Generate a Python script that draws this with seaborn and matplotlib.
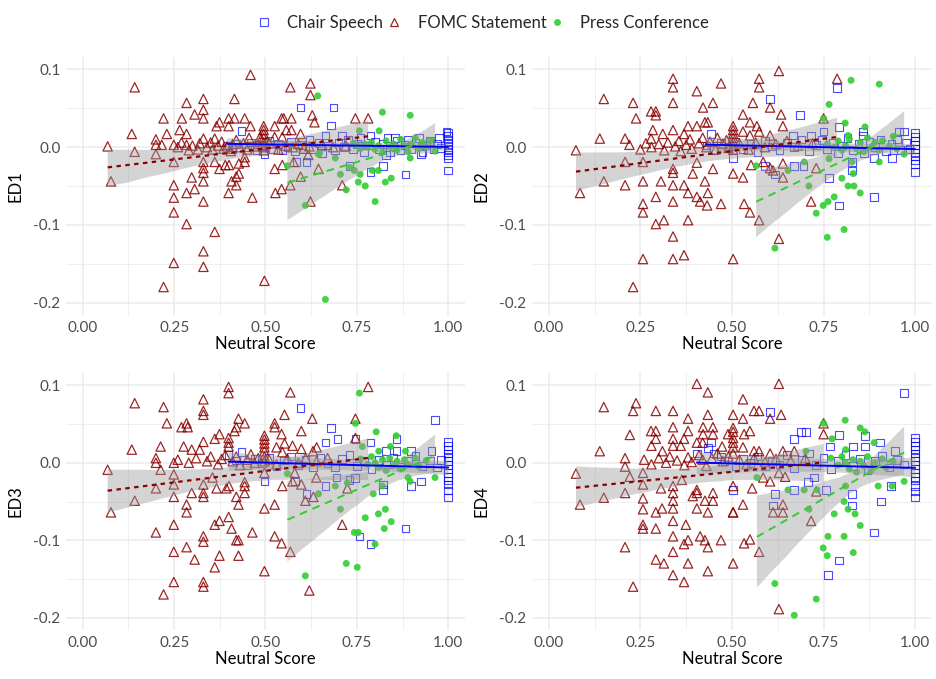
import matplotlib
matplotlib.use("Agg")
import matplotlib.pyplot as plt
import seaborn as sns
from matplotlib.lines import Line2D

# ---------------------------------------------------------------- data
# FOMC Statement
fomc_ed1_x = [0.068, 0.077, 0.134, 0.142, 0.142, 0.200, 0.200, 0.200, 0.216, 0.221,
              0.221, 0.230, 0.249, 0.249, 0.249, 0.249, 0.249, 0.249, 0.265, 0.270,
              0.271, 0.284, 0.284, 0.284, 0.284, 0.284, 0.298, 0.306, 0.306, 0.330,
              0.330, 0.330, 0.330, 0.330, 0.330, 0.330, 0.330, 0.330, 0.330, 0.330,
              0.361, 0.361, 0.361, 0.366, 0.374, 0.374, 0.390, 0.399, 0.399, 0.399,
              0.400, 0.407, 0.415, 0.415, 0.420, 0.420, 0.427, 0.427, 0.443, 0.443,
              0.443, 0.459, 0.459, 0.464, 0.497,
              0.260, 0.290, 0.300, 0.315, 0.320, 0.340, 0.350, 0.355, 0.370, 0.380,
              0.385, 0.395, 0.405, 0.410, 0.420, 0.430, 0.440, 0.450, 0.455, 0.470,
              0.480, 0.485,
              0.495, 0.495, 0.495, 0.495, 0.495, 0.495, 0.495,
              0.525, 0.525, 0.525, 0.527, 0.544, 0.546, 0.544, 0.546, 0.550, 0.557,
              0.568, 0.568, 0.571, 0.571, 0.577, 0.596, 0.596, 0.617, 0.623, 0.623,
              0.623, 0.628, 0.634, 0.645, 0.710, 0.746, 0.781,
              0.510, 0.535, 0.555, 0.575, 0.590, 0.605, 0.620, 0.655, 0.685, 0.720]
fomc_ed1_y = [0.001, -0.044, 0.017, 0.077, -0.006, 0.010, 0.003, -0.009, 0.003, 0.037,
              -0.180, 0.017, 0.003, -0.019, -0.049, -0.065, -0.084, -0.149, 0.022, 0.006,
              0.037, 0.057, 0.017, 0.003, -0.059, -0.099, -0.039, 0.042, -0.054, 0.062,
              0.048, 0.037, 0.011, -0.019, -0.027, -0.033, -0.044, -0.070, -0.134, -0.154,
              0.011, -0.019, -0.109, 0.027, 0.032, -0.028, -0.023, 0.037, 0.027, -0.059,
              -0.023, -0.044, 0.062, 0.037, -0.038, -0.049, -0.021, -0.034, 0.037, -0.019,
              -0.013, 0.093, 0.027, -0.065, -0.172,
              0.000, -0.004, 0.002, -0.003, 0.005, 0.000, 0.006, -0.003, 0.002, 0.007,
              -0.002, 0.001, -0.005, 0.004, 0.009, 0.000, 0.005, -0.003, 0.012, 0.001,
              0.004, 0.013,
              0.027, 0.022, 0.017, 0.012, 0.006, 0.000, -0.004,
              0.027, 0.013, -0.028, -0.059, 0.037, 0.013, -0.054, -0.023, 0.037, 0.022,
              0.077, -0.049, 0.037, 0.022, -0.019, 0.017, -0.038, -0.010, 0.082, 0.067,
              -0.070, 0.041, 0.032, -0.028, -0.049, 0.037, 0.037,
              0.005, -0.003, 0.002, 0.000, 0.004, -0.002, 0.001, 0.003, 0.000, 0.002]

fomc_ed2_x = [0.074, 0.085, 0.139, 0.150, 0.150, 0.208, 0.208, 0.208, 0.230, 0.230,
              0.238, 0.257, 0.257, 0.257, 0.257, 0.257, 0.279, 0.279, 0.284, 0.292,
              0.292, 0.292, 0.292, 0.306, 0.311, 0.314, 0.339, 0.339, 0.339, 0.339,
              0.339, 0.339, 0.339, 0.339, 0.339, 0.339, 0.369, 0.369, 0.369, 0.380,
              0.380, 0.380, 0.393, 0.404, 0.404, 0.404, 0.404, 0.413, 0.421, 0.426,
              0.426, 0.432, 0.434, 0.434, 0.448, 0.448, 0.470, 0.470, 0.503, 0.503,
              0.503,
              0.220, 0.250, 0.265, 0.280, 0.300, 0.315, 0.325, 0.345, 0.355, 0.360,
              0.375, 0.385, 0.390, 0.410, 0.420, 0.430, 0.440, 0.455, 0.460, 0.475,
              0.485, 0.490,
              0.503, 0.503, 0.503, 0.503, 0.503, 0.503,
              0.628, 0.574, 0.574, 0.787, 0.557, 0.604, 0.530, 0.549, 0.568, 0.634,
              0.639, 0.750, 0.530, 0.549, 0.574, 0.604, 0.552, 0.530, 0.585, 0.604,
              0.612, 0.639, 0.639, 0.730, 0.716, 0.533, 0.549, 0.574, 0.628,
              0.520, 0.545, 0.565, 0.590, 0.620, 0.650, 0.680, 0.720]
fomc_ed2_y = [-0.004, -0.059, 0.011, 0.062, -0.044, 0.011, -0.019, -0.049, 0.057, -0.180,
              0.037, -0.019, -0.044, -0.073, -0.084, -0.144, 0.046, 0.011, 0.022, 0.046,
              0.041, -0.064, -0.099, -0.044, 0.017, -0.094, 0.088, 0.077, 0.057, 0.022,
              -0.028, -0.033, -0.049, -0.070, -0.115, -0.144, 0.017, -0.049, -0.139, 0.027,
              -0.059, -0.094, -0.034, 0.072, 0.027, -0.020, -0.064, -0.070, 0.051, 0.032,
              -0.044, -0.075, 0.032, -0.059, 0.057, -0.028, 0.082, -0.073, 0.027, -0.034,
              -0.144,
              0.003, -0.003, 0.005, 0.000, 0.004, -0.004, 0.006, 0.001, 0.008, -0.005,
              0.003, 0.010, -0.002, 0.005, 0.012, 0.000, 0.007, -0.003, 0.012, 0.004,
              0.009, -0.001,
              0.022, 0.017, 0.012, 0.007, 0.002, -0.003,
              0.098, 0.088, 0.077, 0.088, 0.057, 0.051, 0.042, 0.032, 0.027, 0.042,
              0.027, 0.037, 0.020, 0.015, 0.020, 0.015, -0.023, -0.039, -0.019, -0.027,
              -0.030, -0.021, -0.039, -0.027, -0.070, -0.073, -0.084, -0.094, -0.118,
              0.005, -0.003, 0.006, 0.000, 0.004, 0.008, 0.002, 0.005]

fomc_ed3_x = [0.399, 0.399, 0.330, 0.142, 0.221, 0.330, 0.330, 0.230, 0.284, 0.270,
              0.287, 0.426, 0.443, 0.420, 0.415, 0.374, 0.361, 0.399, 0.399, 0.399,
              0.330, 0.213, 0.276, 0.298, 0.320, 0.134, 0.200, 0.200, 0.068, 0.213,
              0.249, 0.249, 0.142, 0.077, 0.200, 0.249, 0.249, 0.298, 0.330, 0.330,
              0.330, 0.366, 0.393, 0.400, 0.355, 0.420, 0.426, 0.443, 0.443, 0.443,
              0.284, 0.284, 0.497, 0.249, 0.200, 0.361, 0.374, 0.399, 0.407, 0.330,
              0.330, 0.420, 0.426, 0.464, 0.284, 0.249, 0.306, 0.374, 0.426, 0.361,
              0.497, 0.249, 0.330, 0.330, 0.221,
              0.497, 0.497, 0.497, 0.497, 0.497, 0.497, 0.497,
              0.260, 0.290, 0.310, 0.340, 0.350, 0.370, 0.380, 0.390, 0.410, 0.420,
              0.430, 0.450, 0.460, 0.470, 0.480,
              0.568, 0.781, 0.552, 0.525, 0.525, 0.628, 0.746, 0.544, 0.598, 0.746,
              0.640, 0.630, 0.598, 0.574, 0.552, 0.530, 0.546, 0.497, 0.546, 0.574,
              0.598, 0.580, 0.639, 0.724, 0.525, 0.609, 0.631, 0.710, 0.525, 0.544,
              0.568, 0.620,
              0.510, 0.530, 0.560, 0.590, 0.610, 0.640, 0.670]
fomc_ed3_y = [0.098, 0.090, 0.082, 0.077, 0.072, 0.067, 0.062, 0.051, 0.051, 0.046,
              0.046, 0.057, 0.051, 0.046, 0.041, 0.037, 0.031, 0.032, 0.026, 0.021,
              0.027, 0.021, 0.021, 0.017, 0.017, 0.017, 0.006, 0.000, -0.009, -0.009,
              0.000, -0.015, -0.049, -0.064, -0.033, -0.028, -0.044, -0.039, -0.028, -0.039,
              -0.044, -0.033, -0.033, -0.030, -0.019, -0.044, -0.054, -0.039, -0.030, -0.025,
              -0.054, -0.064, -0.059, -0.080, -0.090, -0.080, -0.075, -0.070, -0.085, -0.095,
              -0.102, -0.100, -0.100, -0.090, -0.109, -0.115, -0.125, -0.120, -0.120, -0.135,
              -0.140, -0.154, -0.154, -0.160, -0.170,
              0.035, 0.030, 0.025, 0.020, 0.015, 0.008, 0.002,
              0.004, 0.000, 0.006, 0.002, 0.008, -0.002, 0.005, 0.010, 0.002, 0.008,
              -0.003, 0.004, 0.011, 0.000, 0.006,
              0.091, 0.098, 0.062, 0.051, 0.046, 0.057, 0.057, 0.037, 0.041, 0.032,
              0.020, 0.015, 0.018, 0.022, 0.025, 0.020, 0.014, -0.013, -0.030, -0.024,
              -0.028, -0.013, -0.019, -0.033, -0.054, -0.049, -0.044, -0.080, -0.095, -0.104,
              -0.115, -0.165,
              0.004, -0.002, 0.005, 0.000, 0.006, 0.002, 0.006]

fomc_ed4_x = [0.404, 0.434, 0.150, 0.238, 0.230, 0.292, 0.339, 0.434, 0.503, 0.380,
              0.339, 0.421, 0.448, 0.279, 0.292, 0.380, 0.221, 0.421, 0.448, 0.489,
              0.292, 0.339, 0.369, 0.280, 0.339, 0.360, 0.404, 0.420, 0.139, 0.310,
              0.473, 0.208, 0.208, 0.074, 0.150, 0.085, 0.221, 0.208, 0.257, 0.257,
              0.306, 0.363, 0.339, 0.339, 0.339, 0.404, 0.404, 0.393, 0.448, 0.448,
              0.426, 0.257, 0.257, 0.292, 0.309, 0.339, 0.404, 0.434, 0.503, 0.339,
              0.374, 0.257, 0.257, 0.292, 0.339, 0.413, 0.426, 0.380, 0.369, 0.470,
              0.434, 0.208, 0.339, 0.292, 0.314, 0.380, 0.503, 0.434, 0.339, 0.369,
              0.230,
              0.503, 0.503, 0.503, 0.503, 0.503, 0.503,
              0.260, 0.280, 0.300, 0.320, 0.330, 0.350, 0.370, 0.380, 0.390, 0.410,
              0.420, 0.430, 0.445, 0.460, 0.475, 0.490,
              0.628, 0.530, 0.560, 0.574, 0.530, 0.604, 0.634, 0.750, 0.549, 0.533,
              0.750, 0.530, 0.560, 0.574, 0.604, 0.639, 0.670, 0.503, 0.555, 0.585,
              0.604, 0.628, 0.645, 0.730, 0.530, 0.503, 0.612, 0.639, 0.639, 0.716,
              0.533, 0.549, 0.574, 0.628,
              0.520, 0.540, 0.560, 0.590, 0.620, 0.660, 0.700]
fomc_ed4_y = [0.102, 0.091, 0.072, 0.077, 0.067, 0.067, 0.067, 0.062, 0.062, 0.057,
              0.046, 0.046, 0.046, 0.041, 0.041, 0.041, 0.036, 0.037, 0.037, 0.037,
              0.031, 0.031, 0.031, 0.022, 0.022, 0.022, 0.026, 0.026, 0.015, 0.015,
              0.021, 0.006, -0.005, -0.014, -0.045, -0.054, -0.018, -0.039, -0.013, -0.028,
              -0.033, -0.022, -0.030, -0.039, -0.049, -0.035, -0.039, -0.043, -0.039, -0.049,
              -0.049, -0.046, -0.060, -0.064, -0.059, -0.059, -0.059, -0.064, -0.064, -0.075,
              -0.080, -0.080, -0.085, -0.085, -0.095, -0.095, -0.100, -0.100, -0.105, -0.100,
              -0.109, -0.109, -0.115, -0.125, -0.130, -0.130, -0.130, -0.140, -0.145, -0.154,
              -0.160,
              0.045, 0.040, 0.032, 0.026, 0.020, 0.012,
              0.004, -0.002, 0.006, 0.000, 0.008, 0.003, -0.003, 0.007, 0.001, 0.010,
              0.004, -0.004, 0.006, 0.012, 0.002, 0.008,
              0.102, 0.082, 0.067, 0.067, 0.057, 0.057, 0.062, 0.051, 0.041, 0.037,
              0.037, 0.020, 0.015, 0.015, 0.012, 0.015, 0.015, -0.030, -0.033, -0.019,
              -0.024, -0.013, -0.018, -0.037, -0.054, -0.064, -0.064, -0.064, -0.054, -0.075,
              -0.104, -0.099, -0.115, -0.189,
              0.004, -0.002, 0.006, 0.001, 0.005, 0.003, 0.006]

# Chair Speech
chair_ed1_x = [0.434, 0.497, 0.546, 0.585, 0.596, 0.612, 0.664, 0.680, 0.686, 0.710,
               0.730, 0.787, 0.787, 0.822, 0.834, 0.855, 0.883, 0.926, 0.830, 0.995,
               1.0, 1.0, 1.0, 1.0, 1.0, 1.0, 1.0, 1.0, 1.0, 1.0,
               0.395, 0.410, 0.420, 0.445, 0.460, 0.475, 0.490, 0.510, 0.520, 0.535,
               0.560, 0.570, 0.580, 0.600, 0.620, 0.630, 0.645, 0.655, 0.670, 0.690,
               0.700, 0.715, 0.725, 0.740, 0.750, 0.760, 0.770, 0.780, 0.800, 0.810,
               0.820, 0.840, 0.850, 0.860, 0.870, 0.880, 0.890, 0.900, 0.910, 0.920,
               0.930, 0.940, 0.950, 0.960, 0.970, 0.975, 0.980]
chair_ed1_y = [0.021, -0.009, -0.004, -0.019, 0.051, -0.019, 0.015, 0.028, 0.051, 0.015,
               -0.024, 0.015, -0.032, -0.024, 0.012, 0.012, -0.035, -0.009, -0.010, 0.020,
               0.018, 0.014, 0.010, 0.006, 0.002, -0.002, -0.006, -0.010, -0.014, -0.030,
               0.002, -0.003, 0.004, 0.000, 0.006, -0.004, 0.003, 0.008, -0.002, 0.004,
               0.000, 0.007, -0.005, 0.003, 0.010, -0.003, 0.005, -0.008, 0.002, -0.004,
               0.006, 0.000, 0.009, -0.003, 0.004, 0.012, -0.006, 0.002, 0.007, -0.002,
               0.004, -0.006, 0.001, 0.008, -0.004, 0.003, 0.010, -0.002, 0.005, 0.012,
               -0.006, 0.002, 0.008, -0.003, 0.004, 0.012, -0.001]

chair_ed2_x = [0.443, 0.503, 0.590, 0.604, 0.617, 0.667, 0.670, 0.686, 0.695, 0.715,
               0.750, 0.765, 0.787, 0.792, 0.792, 0.828, 0.828, 0.858, 0.858, 0.888,
               0.888, 0.937, 0.956, 0.970,
               1.0, 1.0, 1.0, 1.0, 1.0, 1.0, 1.0, 1.0, 1.0, 1.0,
               0.430, 0.450, 0.470, 0.490, 0.510, 0.530, 0.550, 0.570, 0.590, 0.610,
               0.630, 0.650, 0.670, 0.690, 0.710, 0.730, 0.745, 0.760, 0.775, 0.790,
               0.800, 0.815, 0.830, 0.845, 0.860, 0.875, 0.890, 0.905, 0.920, 0.935,
               0.950, 0.960, 0.975, 0.985]
chair_ed2_y = [0.017, -0.014, -0.024, 0.062, -0.035, 0.015, -0.024, 0.041, -0.024, 0.015,
               0.020, -0.040, 0.076, 0.026, -0.075, -0.019, -0.030, 0.020, 0.015, -0.014,
               -0.064, -0.014, 0.020, 0.020,
               0.018, 0.013, 0.008, 0.003, -0.002, -0.007, -0.012, -0.017, -0.022, -0.032,
               0.002, -0.004, 0.005, 0.000, 0.007, -0.003, 0.004, -0.006, 0.008, 0.001,
               -0.004, 0.006, 0.000, 0.010, -0.005, 0.003, 0.009, -0.002, 0.005, -0.008,
               0.002, 0.012, -0.004, 0.004, -0.008, 0.007, 0.000, 0.010, -0.005, 0.004,
               0.010, -0.004, 0.006, -0.002]

chair_ed3_x = [0.399, 0.434, 0.497, 0.596, 0.680, 0.964, 0.664, 0.697, 0.746, 0.787,
               0.858, 0.830, 0.858, 0.899, 0.954, 0.580, 0.612, 0.664, 0.694, 0.730,
               0.745, 0.822, 0.822, 0.899, 0.926, 0.883, 0.757, 0.787,
               1.0, 1.0, 1.0, 1.0, 1.0, 1.0, 1.0, 1.0, 1.0, 1.0, 1.0, 1.0, 1.0, 1.0,
               0.420, 0.450, 0.470, 0.490, 0.510, 0.530, 0.550, 0.570, 0.590, 0.610,
               0.630, 0.650, 0.670, 0.690, 0.710, 0.730, 0.750, 0.770, 0.790, 0.810,
               0.830, 0.850, 0.870, 0.890, 0.910, 0.930, 0.950, 0.970, 0.980]
chair_ed3_y = [0.010, 0.014, -0.024, 0.071, 0.045, 0.055, 0.026, 0.031, 0.031, 0.026,
               0.031, 0.015, 0.015, 0.015, 0.015, -0.024, -0.040, -0.030, -0.019, -0.022,
               -0.020, -0.028, -0.035, -0.030, -0.024, -0.085, -0.095, -0.105,
               0.027, 0.022, 0.017, 0.012, 0.007, 0.002, -0.003, -0.008, -0.013, -0.018,
               -0.023, -0.028, -0.036, -0.045,
               0.003, -0.003, 0.005, 0.000, 0.006, -0.004, 0.003, 0.008, -0.003, 0.004,
               -0.006, 0.006, 0.000, -0.006, 0.005, 0.010, -0.004, 0.003, -0.008, 0.004,
               -0.002, 0.007, -0.005, 0.002, 0.009, -0.004, 0.003, -0.006, 0.004]

chair_ed4_x = [0.970, 0.604, 0.689, 0.702, 0.670, 0.792, 0.863, 0.768, 0.831, 0.863,
               0.904, 0.945, 0.443, 0.434, 0.404, 0.450, 0.470, 0.503, 0.617, 0.670,
               0.708, 0.612, 0.724, 0.757, 0.828, 0.828, 0.907, 0.934, 0.888, 0.792,
               0.762,
               1.0, 1.0, 1.0, 1.0, 1.0, 1.0, 1.0, 1.0, 1.0, 1.0, 1.0, 1.0, 1.0, 1.0, 1.0,
               0.480, 0.510, 0.530, 0.550, 0.570, 0.590, 0.610, 0.630, 0.650, 0.670,
               0.690, 0.710, 0.730, 0.750, 0.770, 0.790, 0.810, 0.830, 0.850, 0.870,
               0.890, 0.910, 0.930, 0.950, 0.970]
chair_ed4_y = [0.090, 0.066, 0.040, 0.040, 0.031, 0.036, 0.035, 0.021, 0.021, 0.021,
               0.026, 0.015, 0.026, 0.019, 0.012, 0.012, 0.008, -0.035, -0.040, -0.035,
               -0.025, -0.055, -0.019, -0.035, -0.040, -0.055, -0.050, -0.030, -0.090, -0.126,
               -0.145,
               0.032, 0.027, 0.022, 0.017, 0.012, 0.007, 0.002, -0.003, -0.008, -0.013,
               -0.018, -0.023, -0.030, -0.037, -0.045,
               0.002, -0.004, 0.005, 0.000, 0.008, -0.005, 0.003, -0.002, 0.010, -0.007,
               0.004, 0.012, -0.003, 0.006, -0.008, 0.003, 0.010, -0.004, 0.005, -0.010,
               0.002, 0.009, -0.006, 0.004, -0.002]

# Press Conference
press_ed1_x = [0.643, 0.820, 0.896, 0.757, 0.811, 0.645, 0.560, 0.609, 0.691, 0.705,
               0.743, 0.759, 0.754, 0.773, 0.721, 0.792, 0.809, 0.828, 0.844, 0.800,
               0.896, 0.964, 0.664, 0.730, 0.648,
               0.740, 0.750, 0.760, 0.770, 0.780, 0.790, 0.800, 0.810, 0.820, 0.830,
               0.840, 0.850, 0.860, 0.870, 0.880, 0.890, 0.900, 0.910, 0.920, 0.930,
               0.940, 0.950]
press_ed1_y = [0.066, 0.045, 0.041, 0.021, 0.021, -0.009, -0.024, -0.075, -0.014, -0.035,
               -0.030, -0.035, -0.045, -0.050, -0.055, -0.030, -0.030, -0.045, -0.040, -0.070,
               -0.014, -0.005, -0.196, -0.026, -0.008,
               0.005, 0.002, -0.002, 0.004, 0.000, 0.006, -0.003, 0.002, -0.006, 0.008,
               0.000, 0.004, -0.004, 0.010, 0.002, -0.006, 0.004, 0.012, -0.002, 0.006,
               0.000, 0.008]

press_ed2_x = [0.825, 0.902, 0.765, 0.750, 0.809, 0.863, 0.817, 0.566, 0.653, 0.697,
               0.765, 0.828, 0.831, 0.902, 0.970, 0.800, 0.710, 0.817, 0.833, 0.850,
               0.779, 0.762, 0.749, 0.730, 0.806, 0.760, 0.617,
               0.760, 0.780, 0.790, 0.800, 0.810, 0.820, 0.840, 0.850, 0.860, 0.870,
               0.880, 0.890, 0.900, 0.910, 0.930, 0.940, 0.950]
press_ed2_y = [0.086, 0.081, 0.055, 0.037, 0.031, 0.026, 0.015, -0.024, -0.030, -0.019,
               -0.015, -0.019, -0.034, -0.019, -0.009, -0.040, -0.050, -0.050, -0.050, -0.059,
               -0.064, -0.070, -0.075, -0.085, -0.106, -0.116, -0.130,
               0.004, 0.000, 0.008, -0.004, 0.002, 0.010, -0.002, 0.006, -0.006, 0.012,
               0.000, 0.006, -0.004, 0.008, 0.002, 0.014, -0.002]

press_ed3_x = [0.757, 0.746, 0.803, 0.858, 0.842, 0.883, 0.810, 0.765, 0.560, 0.645,
               0.691, 0.724, 0.795, 0.820, 0.890, 0.896, 0.964, 0.705, 0.773, 0.809,
               0.828, 0.844, 0.825, 0.743, 0.754, 0.800, 0.721, 0.751, 0.609,
               0.760, 0.780, 0.790, 0.800, 0.810, 0.820, 0.830, 0.840, 0.850, 0.860,
               0.870, 0.880, 0.890, 0.910, 0.920, 0.940]
press_ed3_y = [0.090, 0.051, 0.040, 0.035, 0.021, 0.015, 0.015, 0.021, -0.014, -0.040,
               -0.030, -0.026, -0.040, -0.030, -0.019, -0.024, -0.019, -0.060, -0.071, -0.066,
               -0.060, -0.076, -0.085, -0.090, -0.090, -0.105, -0.130, -0.135, -0.146,
               0.005, -0.002, 0.008, 0.000, -0.006, 0.004, -0.010, 0.006, -0.004, 0.002,
               -0.008, 0.004, -0.002, 0.006, -0.005, 0.003]

press_ed4_x = [0.809, 0.850, 0.863, 0.750, 0.773, 0.888, 0.702, 0.810, 0.568, 0.653,
               0.697, 0.732, 0.810, 0.899, 0.937, 0.970, 0.806, 0.710, 0.817, 0.836,
               0.779, 0.850, 0.762, 0.806, 0.749, 0.760, 0.831, 0.617, 0.730, 0.670,
               0.770, 0.790, 0.800, 0.810, 0.820, 0.830, 0.840, 0.850, 0.860, 0.870,
               0.880, 0.890, 0.910, 0.920, 0.940]
press_ed4_y = [0.055, 0.045, 0.040, 0.051, 0.031, 0.026, 0.015, 0.017, -0.019, -0.035,
               -0.035, -0.035, -0.030, -0.030, -0.030, -0.024, -0.050, -0.060, -0.060, -0.066,
               -0.066, -0.081, -0.095, -0.095, -0.110, -0.120, -0.116, -0.156, -0.176, -0.197,
               0.006, -0.003, 0.008, 0.000, -0.008, 0.004, -0.012, 0.002, -0.004, 0.008,
               -0.010, 0.000, 0.005, -0.006, 0.002]

panels = ["ED1", "ED2", "ED3", "ED4"]
series_names = ["Chair Speech", "FOMC Statement", "Press Conference"]
x_ticks = [0.0, 0.25, 0.5, 0.75, 1.0]
x_tick_labels = ["0.00", "0.25", "0.50", "0.75", "1.00"]
y_ticks = [-0.2, -0.1, 0.0, 0.1]
y_tick_labels = ["-0.2", "-0.1", "0.0", "0.1"]

panel_data = {
    "ED1": {"Chair Speech": (chair_ed1_x, chair_ed1_y),
            "FOMC Statement": (fomc_ed1_x, fomc_ed1_y),
            "Press Conference": (press_ed1_x, press_ed1_y)},
    "ED2": {"Chair Speech": (chair_ed2_x, chair_ed2_y),
            "FOMC Statement": (fomc_ed2_x, fomc_ed2_y),
            "Press Conference": (press_ed2_x, press_ed2_y)},
    "ED3": {"Chair Speech": (chair_ed3_x, chair_ed3_y),
            "FOMC Statement": (fomc_ed3_x, fomc_ed3_y),
            "Press Conference": (press_ed3_x, press_ed3_y)},
    "ED4": {"Chair Speech": (chair_ed4_x, chair_ed4_y),
            "FOMC Statement": (fomc_ed4_x, fomc_ed4_y),
            "Press Conference": (press_ed4_x, press_ed4_y)},
}

# ---------------------------------------------------------------- style
BLUE = "#0000ff"
DARKRED = "#8b0000"
GREEN = "#32cd32"

marker_style = {
    "Chair Speech": dict(marker="s", s=30, facecolors="none", edgecolors=BLUE,
                         linewidths=0.8, alpha=0.7),
    "FOMC Statement": dict(marker="^", s=45, facecolors="none", edgecolors=DARKRED,
                           linewidths=0.9, alpha=0.85),
    "Press Conference": dict(marker="o", s=25, color=GREEN, edgecolors="none",
                             linewidths=0, alpha=0.9),
}
line_style = {
    "Chair Speech": dict(color=BLUE, linestyle="-", linewidth=1.4),
    "FOMC Statement": dict(color=DARKRED, linestyle=(0, (2, 2)), linewidth=1.6),
    "Press Conference": dict(color=GREEN, linestyle=(0, (4, 3)), linewidth=1.4),
}

sns.set_theme(style="white")
plt.rcParams["font.family"] = ["Lato", "DejaVu Sans"]

W, H = 937, 679
fig = plt.figure(figsize=(W / 100, H / 100), dpi=100)


def box(left, top, right, bottom):
    return [left / W, 1 - bottom / H, (right - left) / W, (bottom - top) / H]


rects = {"ED1": box(66, 57, 465, 315), "ED2": box(532, 57, 932, 315),
         "ED3": box(66, 373, 465, 630), "ED4": box(532, 373, 932, 630)}

for name in panels:
    ax = fig.add_axes(rects[name])
    for s_name in series_names:
        xs, ys = panel_data[name][s_name]
        sns.scatterplot(x=xs, y=ys, ax=ax, legend=False, **marker_style[s_name])
    for s_name in series_names:
        xs, ys = panel_data[name][s_name]
        sns.regplot(x=xs, y=ys, ax=ax, scatter=False, ci=95, n_boot=1000, seed=3,
                    color="#999999", truncate=True, line_kws=line_style[s_name])
        band = ax.collections[-1]
        band.set_alpha(0.42)
        band.set_facecolor("#999999")
        band.set_edgecolor("none")

    ax.set_xlim(-0.046, 1.046)
    ax.set_ylim(-0.216, 0.116)
    ax.set_xticks(x_ticks)
    ax.set_xticklabels(x_tick_labels)
    ax.set_yticks(y_ticks)
    ax.set_yticklabels(y_tick_labels)
    ax.set_xticks([0.125, 0.375, 0.625, 0.875], minor=True)
    ax.set_yticks([-0.15, -0.05, 0.05], minor=True)
    ax.grid(True, which="major", color="#ebebeb", linewidth=1.1)
    ax.grid(True, which="minor", color="#ebebeb", linewidth=0.55)
    ax.set_axisbelow(True)
    for sp in ax.spines.values():
        sp.set_visible(False)
    ax.tick_params(which="both", length=0, labelsize=11, labelcolor="#4d4d4d", pad=4)
    ax.set_xlabel("Neutral Score", fontsize=12, color="black", labelpad=1)
    ax.set_ylabel(name, fontsize=12, color="black", labelpad=7)

handles = [
    Line2D([], [], linestyle="none", marker="s", markersize=5.5, markerfacecolor="none",
           markeredgecolor=BLUE, markeredgewidth=0.8, alpha=0.7),
    Line2D([], [], linestyle="none", marker="^", markersize=6, markerfacecolor="none",
           markeredgecolor=DARKRED, markeredgewidth=0.9, alpha=0.85),
    Line2D([], [], linestyle="none", marker="o", markersize=5, markerfacecolor=GREEN,
           markeredgecolor="none", alpha=0.9),
]
fig.legend(handles, series_names, loc="upper center", bbox_to_anchor=(0.515, 1.0),
           ncol=3, frameon=False, fontsize=12, handletextpad=0.9, columnspacing=0.15,
           handlelength=1.0)

fig.savefig("out.png", dpi=100)
